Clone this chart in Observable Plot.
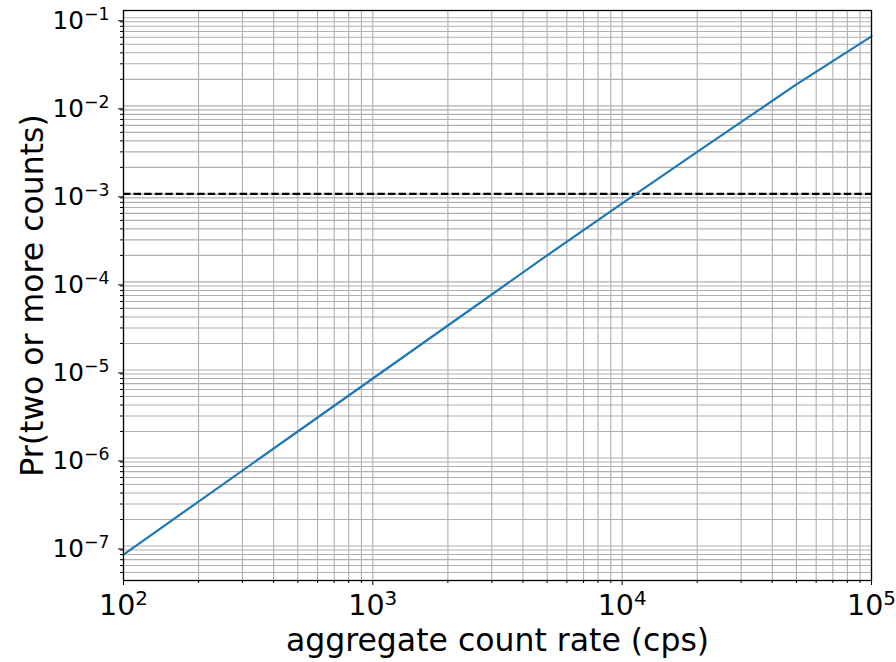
<!DOCTYPE html>
<html>
<head>
<meta charset="utf-8">
<script src="https://cdn.jsdelivr.net/npm/d3@7"></script>
<script src="https://cdn.jsdelivr.net/npm/@observablehq/plot@0.6"></script>
<style>
  html, body { margin: 0; padding: 0; background: white; }
  #chart svg { display: block; }
</style>
</head>
<body>
<div id="chart"></div>
<script>
// Data
const rate = [100, 200, 500, 1000, 2000, 5000, 10000, 20000, 50000, 100000];
const prob = [8.0e-8, 3.2e-7, 2.0e-6, 8.0e-6, 3.2e-5, 2.0e-4, 7.8e-4, 3.0e-3, 1.75e-2, 6.15e-2];
const threshold = [1e-3];

const xTicks = [1e2, 1e3, 1e4, 1e5];
const xTickLabels = ["10^2", "10^3", "10^4", "10^5"];
const yTicks = [1e-7, 1e-6, 1e-5, 1e-4, 1e-3, 1e-2, 1e-1];
const yTickLabels = ["10^−7", "10^−6", "10^−5", "10^−4", "10^−3", "10^−2", "10^−1"];

const xLabel = "aggregate count rate (cps)";
const yLabel = "Pr(two or more counts)";

const xDomain = [1e2, 1e5];
const yDomain = [4.06e-8, 0.121];

function minorTicks(lo, hi, domain) {
  const out = [];
  for (let e = lo; e <= hi; e++) {
    for (let k = 2; k <= 9; k++) {
      const v = k * Math.pow(10, e);
      if (v >= domain[0] && v <= domain[1]) out.push(v);
    }
  }
  return out;
}
const xMinor = minorTicks(2, 4, xDomain);
const yMinor = minorTicks(-8, -1, yDomain);
const xGrid = xTicks.concat(xMinor);
const yGrid = yTicks.filter(v => v >= yDomain[0] && v <= yDomain[1]).concat(yMinor);

const data = rate.map((r, i) => ({rate: r, prob: prob[i]}));

const fmtX = v => xTickLabels[xTicks.indexOf(v)] ?? "";
const fmtY = v => yTickLabels[yTicks.indexOf(v)] ?? "";

const chart = Plot.plot({
  width: 896,
  height: 662,
  marginLeft: 123,
  marginRight: 25,
  marginTop: 10,
  marginBottom: 82,
  style: {fontFamily: "DejaVu Sans", background: "white", color: "black"},
  x: {type: "log", domain: xDomain},
  y: {type: "log", domain: yDomain},
  marks: [
    Plot.ruleX(xGrid, {stroke: "#b0b0b0", strokeWidth: 1.1}),
    Plot.ruleY(yGrid, {stroke: "#b0b0b0", strokeWidth: 1.1}),
    Plot.ruleY(threshold, {stroke: "black", strokeWidth: 2.2, strokeDasharray: "7.4,3.2"}),
    Plot.line(data, {x: "rate", y: "prob", stroke: "#1f77b4", strokeWidth: 2.2}),
    Plot.frame({stroke: "black", strokeWidth: 1.3}),
    Plot.axisX({ticks: xTicks, tickSize: 5, tickPadding: 9, tickFormat: fmtX, fontSize: 28.5, label: null}),
    Plot.axisX({ticks: xMinor, tickSize: 3, tickFormat: () => "", label: null}),
    Plot.axisY({ticks: yTicks, tickSize: 5, tickPadding: 9, tickFormat: fmtY, fontSize: 24.7, label: null, dy: 3}),
    Plot.axisY({ticks: yMinor, tickSize: 3, tickFormat: () => "", label: null}),
    Plot.text([xLabel], {text: d => d, frameAnchor: "bottom", textAnchor: "middle", lineAnchor: "middle", dy: 60, fontSize: 31.5}),
    Plot.text([yLabel], {text: d => d, frameAnchor: "left", textAnchor: "middle", lineAnchor: "middle", rotate: -90, dx: -91, fontSize: 31.5})
  ]
});

// Turn "10^n" labels into a base with a real superscript tspan
const ns = "http://www.w3.org/2000/svg";
chart.querySelectorAll("text").forEach(t => {
  const m = t.textContent.match(/^10\^(.+)$/);
  if (m) {
    t.textContent = "10";
    const ts = document.createElementNS(ns, "tspan");
    ts.setAttribute("font-size", "0.7em");
    ts.setAttribute("dy", "-0.5em");
    ts.textContent = m[1];
    t.appendChild(ts);
  }
});

document.getElementById("chart").appendChild(chart);
</script>
</body>
</html>
